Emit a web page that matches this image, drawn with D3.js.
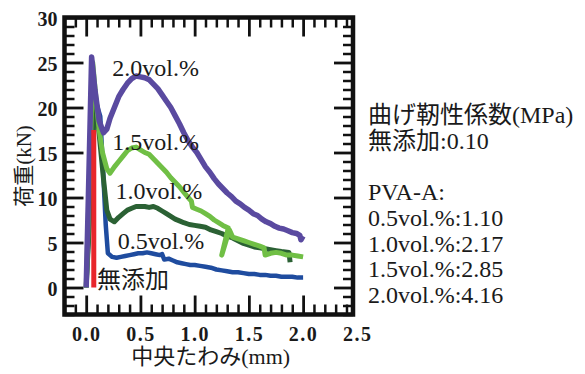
<!DOCTYPE html>
<html>
<head>
<meta charset="utf-8">
<script src="https://cdn.jsdelivr.net/npm/d3@7/dist/d3.min.js"></script>
<style>
  html, body { margin: 0; padding: 0; background: #fff; }
  svg { display: block; }
  text { font-family: "Liberation Serif", "Noto Sans CJK JP", serif; fill: #1a1a1a; }
</style>
</head>
<body>
<div id="chart"></div>
<script>
// ---- data: load (kN) vs mid-span deflection (mm) ----
const plainMix = [[0.07, 0], [0.07, 17.5]];

const pva05 = [[0, 0], [0.04, 10], [0.08, 21], [0.13, 19], [0.16, 12], [0.18, 7], [0.2, 3.8], [0.24, 3.4],
  [0.28, 3.3], [0.32, 3.4], [0.36, 3.5], [0.4, 3.6], [0.44, 3.7], [0.48, 3.8], [0.52, 3.8], [0.56, 3.9],
  [0.6, 3.8], [0.64, 3.7], [0.68, 3.6], [0.7, 3.7], [0.72, 3.1], [0.76, 3.2], [0.8, 3.0], [0.84, 2.8],
  [0.88, 2.7], [0.92, 2.6], [0.96, 2.5], [1.0, 2.5], [1.05, 2.4], [1.1, 2.3], [1.15, 2.2], [1.2, 2.0],
  [1.25, 1.9], [1.3, 1.8], [1.35, 1.7], [1.4, 1.7], [1.45, 1.6], [1.5, 1.5], [1.55, 1.5], [1.6, 1.4],
  [1.65, 1.4], [1.7, 1.3], [1.75, 1.3], [1.8, 1.2], [1.85, 1.2], [1.9, 1.2], [1.95, 1.1], [2.0, 1.1]];

const pva10 = [[0, 0], [0.04, 10], [0.08, 21.8], [0.12, 17], [0.16, 12], [0.19, 8.6], [0.22, 7.6], [0.26, 7.3],
  [0.3, 7.8], [0.34, 8.2], [0.38, 8.6], [0.42, 8.8], [0.46, 9.0], [0.5, 9.0], [0.54, 9.0], [0.58, 8.9],
  [0.62, 9.0], [0.66, 8.8], [0.7, 8.5], [0.74, 8.2], [0.78, 7.9], [0.82, 7.6], [0.86, 7.4], [0.9, 7.2],
  [0.95, 7.0], [1.0, 6.9], [1.05, 6.8], [1.1, 6.7], [1.15, 6.4], [1.2, 6.2], [1.25, 6.0], [1.3, 5.7],
  [1.35, 5.5], [1.4, 5.2], [1.45, 4.9], [1.5, 4.7], [1.55, 4.5], [1.6, 4.4], [1.65, 4.3], [1.7, 4.2],
  [1.75, 4.1], [1.8, 4.0], [1.87, 3.9], [1.88, 2.8]];

const pva15 = [[0, 0], [0.03, 12], [0.06, 25], [0.09, 21], [0.12, 17.5], [0.15, 15], [0.19, 13.2], [0.22, 12.7],
  [0.26, 13.4], [0.3, 14.0], [0.34, 14.6], [0.38, 15.2], [0.42, 15.5], [0.46, 15.6], [0.5, 15.3], [0.54, 15.0],
  [0.58, 14.8], [0.62, 14.3], [0.66, 13.8], [0.7, 13.3], [0.74, 12.8], [0.78, 12.2], [0.82, 11.7], [0.86, 11.2],
  [0.9, 10.6], [0.94, 10.0], [0.97, 9.6], [0.98, 8.9], [1.02, 8.7], [1.06, 8.5], [1.1, 8.2], [1.14, 7.9],
  [1.18, 7.5], [1.22, 7.2], [1.26, 6.9], [1.31, 6.6], [1.25, 3.6], [1.32, 6.4], [1.35, 5.6], [1.4, 5.4],
  [1.45, 5.2], [1.5, 5.0], [1.55, 4.8], [1.6, 4.6], [1.64, 4.4], [1.65, 3.6], [1.7, 3.8], [1.75, 3.9],
  [1.8, 3.8], [1.85, 3.6], [1.9, 3.6], [1.95, 3.5], [2.0, 3.4]];

const pva20 = [[0, 0], [0.02, 10], [0.05, 25.6], [0.08, 22], [0.12, 18.5], [0.16, 17.2], [0.19, 17.6], [0.22, 18.8],
  [0.26, 20], [0.3, 21.2], [0.34, 22], [0.38, 22.7], [0.42, 23.2], [0.46, 23.5], [0.5, 23.4], [0.54, 23.3],
  [0.58, 23.1], [0.62, 22.6], [0.66, 22.1], [0.7, 21.4], [0.74, 20.7], [0.78, 20], [0.82, 19.1], [0.86, 18.2],
  [0.9, 17.2], [0.94, 16.3], [0.98, 15.6], [1.02, 15.0], [1.06, 14.2], [1.1, 13.4], [1.14, 12.8], [1.18, 12.1],
  [1.22, 11.5], [1.26, 11.0], [1.3, 10.5], [1.34, 10.1], [1.38, 9.6], [1.42, 9.3], [1.46, 8.9], [1.5, 8.6],
  [1.54, 8.2], [1.58, 8.0], [1.62, 7.6], [1.66, 7.3], [1.7, 7.1], [1.74, 6.8], [1.78, 6.6], [1.82, 6.5],
  [1.86, 6.3], [1.9, 6.1], [1.94, 6.0], [1.97, 5.8], [1.98, 5.3], [2.0, 5.7]];

const seriesNames = ['無添加', '0.5vol.%', '1.0vol.%', '1.5vol.%', '2.0vol.%'];
const seriesColors = ['#e8262b', '#1f4c9f', '#2b6134', '#70bf45', '#5a4aa0'];

const xMajorTicks = [0, 0.5, 1.0, 1.5, 2.0, 2.5];
const yMajorTicks = [0, 5, 10, 15, 20, 25, 30];

const notesTitle = '曲げ靭性係数(MPa)';
const notesLines = ['無添加:0.10', '', 'PVA-A:', '0.5vol.%:1.10', '1.0vol.%:2.17', '1.5vol.%:2.85', '2.0vol.%:4.16'];

// ---- layout ----
const W = 585, H = 374;
const frame = { left: 64.5, right: 353, top: 17.5, bottom: 314.5 };

const svg = d3.select('#chart').append('svg')
  .attr('width', W).attr('height', H);

const x = d3.scaleLinear().domain([-0.2, 2.46]).range([frame.left, frame.right]);
const y = d3.scaleLinear().domain([-3, 30]).range([frame.bottom, frame.top]);

const xMinor = d3.range(-2, 25).map(i => i / 10).filter(v => Math.abs(v * 2 - Math.round(v * 2)) > 1e-6);
const yMinor = d3.range(-3, 31).filter(v => v % 5 !== 0);

// minor ticks (all four sides, pointing inward)
function styleTicks(g, w) {
  g.select('.domain').remove();
  g.selectAll('.tick line').attr('stroke', '#111').attr('stroke-width', w);
  g.selectAll('.tick text').remove();
}
svg.append('g').attr('transform', `translate(0,${frame.bottom})`)
  .call(d3.axisBottom(x).tickValues(xMinor).tickSize(-10)).call(g => styleTicks(g, 2.5));
svg.append('g').attr('transform', `translate(0,${frame.top})`)
  .call(d3.axisTop(x).tickValues(xMinor).tickSize(-10)).call(g => styleTicks(g, 2.5));
svg.append('g').attr('transform', `translate(${frame.left},0)`)
  .call(d3.axisLeft(y).tickValues(yMinor).tickSize(-10)).call(g => styleTicks(g, 2.5));
svg.append('g').attr('transform', `translate(${frame.right},0)`)
  .call(d3.axisRight(y).tickValues(yMinor).tickSize(-10)).call(g => styleTicks(g, 2.5));

// major ticks
const xMajorIn = xMajorTicks.filter(v => x(v) < frame.right - 3);
svg.append('g').attr('transform', `translate(0,${frame.top})`)
  .call(d3.axisTop(x).tickValues(xMajorIn).tickSize(-19)).call(g => styleTicks(g, 2.8));
svg.append('g').attr('transform', `translate(${frame.right},0)`)
  .call(d3.axisRight(y).tickValues(yMajorTicks).tickSize(-19)).call(g => styleTicks(g, 2.8));

const xAxis = svg.append('g').attr('transform', `translate(0,${frame.bottom})`)
  .call(d3.axisBottom(x).tickValues(xMajorTicks).tickSize(-19).tickPadding(12).tickFormat(d3.format('.1f')));
xAxis.select('.domain').remove();
xAxis.selectAll('.tick line').attr('stroke', '#111').attr('stroke-width', 2.8)
  .filter(d => x(d) > frame.right - 3).remove();
xAxis.selectAll('.tick text')
  .attr('font-size', 20).attr('font-weight', 600).attr('letter-spacing', 1.5)
  .style('font-family', '"Liberation Serif", serif').attr('fill', '#1a1a1a');

const yAxis = svg.append('g').attr('transform', `translate(${frame.left},0)`)
  .call(d3.axisLeft(y).tickValues(yMajorTicks).tickSize(-19).tickPadding(7));
yAxis.select('.domain').remove();
yAxis.selectAll('.tick line').attr('stroke', '#111').attr('stroke-width', 2.8);
yAxis.selectAll('.tick text')
  .attr('font-size', 20).attr('font-weight', 600).attr('dy', '0.42em')
  .style('font-family', '"Liberation Serif", serif').attr('fill', '#1a1a1a');

// curves
const line = d3.line().x(d => x(d[0])).y(d => y(d[1]));
const allSeries = [plainMix, pva05, pva10, pva15, pva20];
const drawOrder = [1, 2, 3, 4, 0];
const widths = [5, 4.5, 5, 5, 5.5];

const plot = svg.append('g');
drawOrder.forEach(i => {
  plot.append('path')
    .datum(allSeries[i])
    .attr('d', line)
    .attr('fill', 'none')
    .attr('stroke', seriesColors[i])
    .attr('stroke-width', widths[i])
    .attr('stroke-linejoin', 'round');
});

// frame
svg.append('rect')
  .attr('x', frame.left).attr('y', frame.top)
  .attr('width', frame.right - frame.left).attr('height', frame.bottom - frame.top)
  .attr('fill', 'none').attr('stroke', '#111').attr('stroke-width', 4.5);

// in-plot labels (anchored in data units)
const labelPos = [[0.1, -0.1], [0.29, 4.3], [0.27, 9.8], [0.24, 15.3], [0.24, 23.5]];
svg.append('g').selectAll('text')
  .data(seriesNames)
  .join('text')
  .attr('x', (d, i) => x(labelPos[i][0]))
  .attr('y', (d, i) => y(labelPos[i][1]))
  .attr('font-size', 24)
  .text(d => d);

// axis titles
svg.append('text')
  .attr('x', (frame.left + frame.right) / 2 + 2)
  .attr('y', 364)
  .attr('text-anchor', 'middle')
  .attr('font-size', 22)
  .text('中央たわみ(mm)');

svg.append('text')
  .attr('transform', `translate(31,${(frame.top + frame.bottom) / 2}) rotate(-90)`)
  .attr('text-anchor', 'middle')
  .attr('font-size', 21)
  .text('荷重(kN)');

// toughness notes
const notes = svg.append('g').attr('transform', 'translate(368,0)');
[notesTitle].concat(notesLines).forEach((t, i) => {
  notes.append('text')
    .attr('x', 0)
    .attr('y', 123 + i * 25.7)
    .attr('font-size', 24)
    .text(t);
});
</script>
</body>
</html>
